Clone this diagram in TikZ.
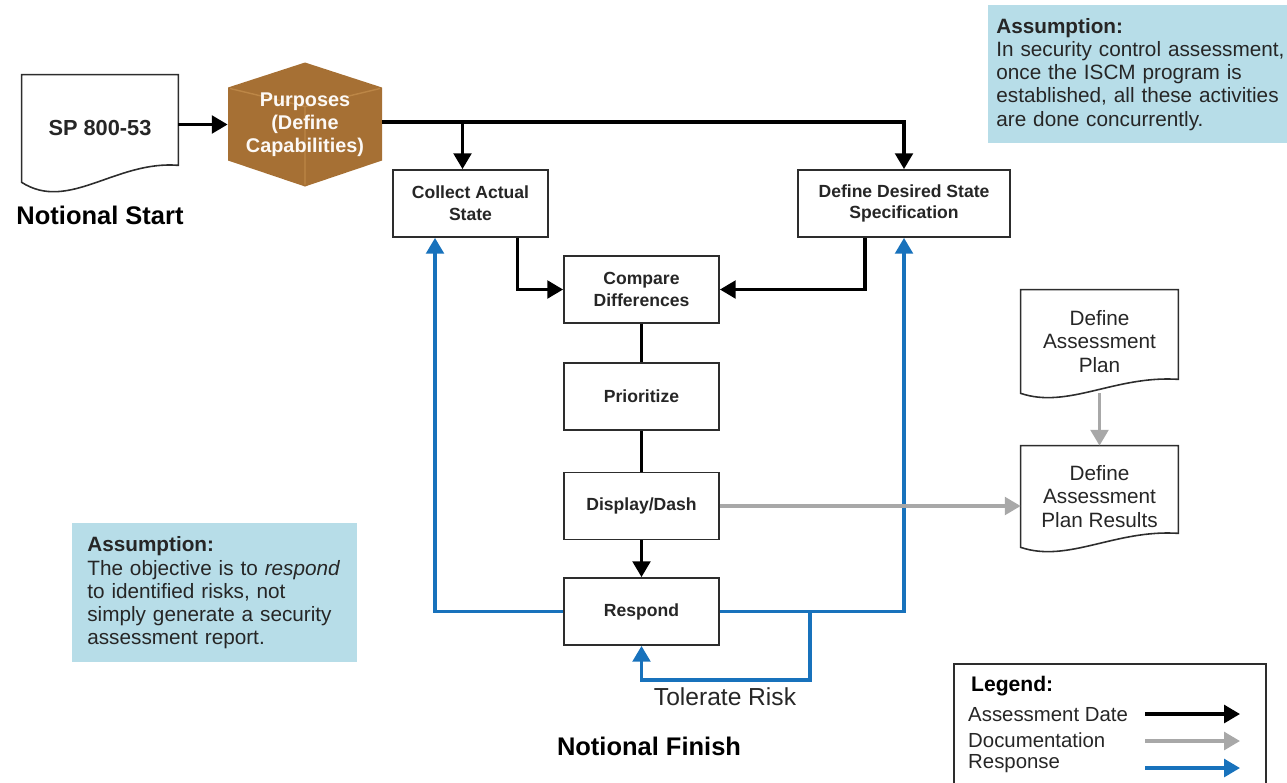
\documentclass[tikz,border=0pt]{standalone}
\usepackage{fontspec}
\setmainfont{Liberation Sans}
\usetikzlibrary{arrows.meta,calc,positioning}
\definecolor{respblue}{RGB}{24,114,188}
\definecolor{docgray}{RGB}{168,168,168}
\definecolor{cubebrown}{RGB}{166,112,52}
\definecolor{cubeedge}{RGB}{188,134,70}
\definecolor{notefill}{RGB}{183,221,232}
\definecolor{boxline}{RGB}{45,45,45}

% wavy-bottom document outline round a node
\newcommand{\docframe}[3]{%
  \draw[docline] (#1.south west) -- (#1.north west) -- (#1.north east)
    -- ($(#1.south east)+(0,-#2)$)
    .. controls ($(#1.south west)!0.6!(#1.south east)+(0,-#2*1.3)$)
    and ($(#1.south west)!0.3!(#1.south east)+(0,#3)$) .. (#1.south west) -- cycle;}

\begin{document}
\begin{tikzpicture}[x=0.02cm,y=-0.02cm,
  procbox/.style={draw=boxline,line width=1pt,fill=white,minimum width=3.1cm,minimum height=1.34cm,align=center,font=\fontsize{10}{12.3}\selectfont\bfseries,text=black!85},
  docbox/.style={minimum width=3.14cm,align=center,font=\fontsize{11.8}{13.6}\selectfont,text=black!85},
  docline/.style={draw=boxline,line width=0.9pt},
  notebox/.style={fill=notefill,anchor=north west,align=left,font=\fontsize{11.8}{13.2}\selectfont,text=black!85},
  bigtitle/.style={font=\fontsize{14.5}{16}\selectfont\bfseries},
  legtext/.style={anchor=west,font=\fontsize{11.6}{13}\selectfont,text=black!85},
  flowline/.style={line width=2pt},
  flowarrow/.style={line width=2pt,-{Triangle[length=9pt,width=10pt]}},
  resparrow/.style={respblue,line width=2pt,-{Triangle[length=9pt,width=10pt]}},
  docarrow/.style={docgray,line width=2pt,-{Triangle[length=9pt,width=10pt]}}]
\useasboundingbox (0,0) rectangle (1287,782);
%-------->start<--------------
\node[docbox,minimum width=3.12cm,minimum height=2.14cm,font=\fontsize{12.4}{14}\selectfont\bfseries] (sp) at (100,128.5) {SP 800-53};
\docframe{sp}{17}{30}
\node[bigtitle] (nstart) at (100,215) {Notional Start};
%-------->purposes cube<--------------
\coordinate (pcen) at (305,124.5);
\fill[cubebrown] ($(pcen)+(0,-62)$) -- ($(pcen)+(77,-37)$) -- ($(pcen)+(77,36)$) -- ($(pcen)+(0,62)$)
  -- ($(pcen)+(-77,36)$) -- ($(pcen)+(-77,-37)$) -- cycle;
\draw[cubeedge,line width=0.8pt] ($(pcen)+(-75,-36)$) -- ($(pcen)+(0,-18)$) -- ($(pcen)+(75,-36)$)
  ($(pcen)+(0,-18)$) -- ($(pcen)+(0,60)$);
\node[align=center,text=white!95!brown,font=\fontsize{11.3}{13.2}\selectfont\bfseries,minimum width=3.08cm,minimum height=2.48cm] (purp) at (pcen) {Purposes\\(Define\\Capabilities)};
%-------->process boxes<--------------
\node[procbox] (collect) at (470.5,203.5) {Collect Actual\\State};
\node[procbox,minimum width=4.24cm] (desired) at (904,203.5) {Define Desired State\\Specification};
\node[procbox] (compare) at (641.5,289.5) {Compare\\Differences};
\node[procbox] (prior) at (641.5,396.5) {Prioritize};
\node[procbox] (display) at (641.5,506) {Display/Dash};
\node[procbox] (respond) at (641.5,611.5) {Respond};
%-------->documents<--------------
\node[docbox,minimum height=2.06cm] (plan) at (1099.5,341.5) {Define\\Assessment\\Plan};
\docframe{plan}{14}{16}
\node[docbox,minimum height=2.02cm] (results) at (1099.5,496.5) {Define\\Assessment\\Plan Results};
\docframe{results}{14}{16}
%-------->black arrows<--------------
\coordinate (cdrop) at ([xshift=-0.16cm]collect.north);
\coordinate (ptop) at ([yshift=0.05cm]purp.east);
\draw[flowarrow] (purp.west -| sp.east) -- (purp.west);
\draw[flowarrow] (ptop) -| (desired.north);
\draw[flowarrow] (cdrop |- ptop) -- (cdrop);
\draw[flowarrow] ([xshift=0.94cm]collect.south) |- (compare.west);
\draw[flowarrow] ([xshift=-0.78cm]desired.south) |- (compare.east);
\draw[flowline] (compare.south) -- (prior.north);
\draw[flowline] (prior.south) -- (display.north);
\draw[flowarrow] (display.south) -- (respond.north);
%-------->blue arrows<--------------
\coordinate (bdrop) at ([xshift=-0.71cm]collect.south);
\coordinate (tsplit) at (810,611.5);
\coordinate (tbottom) at (641.5,680);
\draw[resparrow] (respond.west) -| (bdrop);
\draw[resparrow] (respond.east) -| (desired.south);
\draw[resparrow] (tsplit) |- (tbottom) -- (respond.south);
\node[font=\fontsize{14}{16}\selectfont,text=black!85] (tolerate) at (725,697) {Tolerate Risk};
\node[bigtitle] (nfinish) at (649,746) {Notional Finish};
%-------->gray arrows<--------------
\draw[docarrow] (display.east) -- (display.east -| results.west);
\draw[docarrow] (plan.south) -- (results.north);
%-------->assumption notes<--------------
\node[notebox,text width=5.85cm,minimum height=2.76cm,inner xsep=0.16cm] (noteA) at (988,5)
  {\textbf{Assumption:}\\In security control assessment,\\once the ISCM program is\\established, all these activities\\are done concurrently.};
\node[notebox,text width=5.1cm,minimum height=2.78cm,inner xsep=0.3cm] (noteB) at (72,523)
  {\textbf{Assumption:}\\The objective is to \textit{respond}\\to identified risks, not\\simply generate a security\\assessment report.};
%-------->legend<--------------
\node[draw=boxline,line width=0.9pt,anchor=north west,minimum width=6.24cm,minimum height=2.8cm] (legend) at (953,663) {};
\node[anchor=west,font=\fontsize{12}{14}\selectfont\bfseries] (legtitle) at (965,686) {Legend:};
\node[legtext] (legA) at (962,715) {Assessment Date};
\node[legtext] (legD) at (962,740) {Documentation};
\node[legtext] (legR) at (962,764) {Response};
\coordinate (la1) at (1145,714); \coordinate (la2) at (1240,714);
\coordinate (ld1) at (1145,741); \coordinate (ld2) at (1240,741);
\coordinate (lr1) at (1145,768); \coordinate (lr2) at (1240,768);
\draw[flowarrow] (la1) -- (la2);
\draw[docarrow] (ld1) -- (ld2);
\draw[resparrow] (lr1) -- (lr2);
\end{tikzpicture}
\end{document}
